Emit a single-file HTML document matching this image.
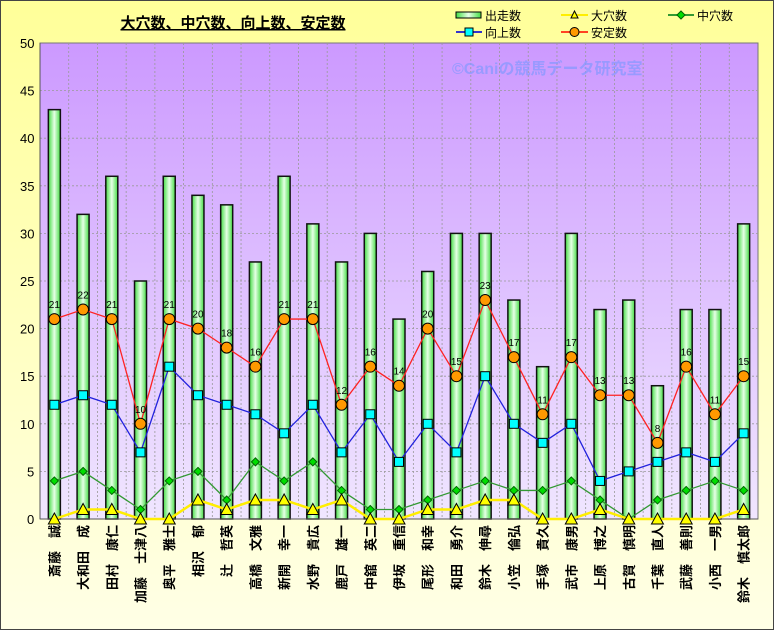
<!DOCTYPE html>
<html><head><meta charset="utf-8"><style>
body{margin:0;}
svg{display:block;font-family:"Liberation Sans","Noto Sans CJK JP",sans-serif;}
</style></head><body>
<svg id="s" width="774" height="630" xmlns="http://www.w3.org/2000/svg">
<defs>
<linearGradient id="bg" x1="0" y1="0" x2="0" y2="1"><stop offset="0" stop-color="#ffff99"/><stop offset="1" stop-color="#ffffe6"/></linearGradient>
<linearGradient id="pl" x1="0" y1="0" x2="0" y2="1"><stop offset="0" stop-color="#cc99ff"/><stop offset="1" stop-color="#f0e6ff"/></linearGradient>
<linearGradient id="bar" x1="0" y1="0" x2="1" y2="0"><stop offset="0" stop-color="#44dd44"/><stop offset="0.5" stop-color="#e6ffe6"/><stop offset="1" stop-color="#44dd44"/></linearGradient>
</defs>
<rect x="0.5" y="0.5" width="773" height="629" fill="url(#bg)" stroke="#444"/>
<rect x="40" y="43" width="718" height="476" fill="url(#pl)" stroke="#777"/>
<g id="g"></g>
<text x="233" y="28" font-size="15" font-weight="bold" text-anchor="middle" text-decoration="underline">大穴数、中穴数、向上数、安定数</text>
<text x="452" y="74" font-size="16" font-weight="bold" fill="#8899ff" opacity="0.75">©Caniの競馬データ研究室</text>
<g font-size="12">
<rect x="456" y="12" width="25" height="6" fill="url(#bar)" stroke="#000"/><text x="485" y="20">出走数</text>
<line x1="561" y1="15" x2="588" y2="15" stroke="#ffee00" stroke-width="2"/><polygon points="574.5,11 578,18 571,18" fill="#ffff00" stroke="#000"/><text x="591" y="20">大穴数</text>
<line x1="668" y1="15" x2="694" y2="15" stroke="#339933" stroke-width="2"/><polygon points="681,11 685,15 681,19 677,15" fill="#00dd00" stroke="#006600"/><text x="697" y="20">中穴数</text>
<line x1="456" y1="32" x2="482" y2="32" stroke="#3333cc" stroke-width="2"/><rect x="465" y="28" width="8" height="8" fill="#00ffff" stroke="#000"/><text x="485" y="37">向上数</text>
<line x1="561" y1="32" x2="588" y2="32" stroke="#ff4422" stroke-width="2"/><circle cx="574.5" cy="32" r="4.5" fill="#ff9900" stroke="#000"/><text x="591" y="37">安定数</text>
</g>
</svg>
<script>
const N=["斎藤　誠","大和田　成","田村　康仁","加藤　士津八","奥平　雅士","相沢　郁","辻　哲英","高橋　文雅","新開　幸一","水野　貴広","鹿戸　雄一","中舘　英二","伊坂　重信","尾形　和幸","和田　勇介","鈴木　伸尋","小笠　倫弘","手塚　貴久","武市　康男","上原　博之","古賀　慎明","千葉　直人","武藤　善則","小西　一男","鈴木　慎太郎"];
const R=[43,32,36,25,36,34,33,27,36,31,27,30,21,26,30,30,23,16,30,22,23,14,22,22,31];
const A=[21,22,21,10,21,20,18,16,21,21,12,16,14,20,15,23,17,11,17,13,13,8,16,11,15];
const U=[12,13,12,7,16,13,12,11,9,12,7,11,6,10,7,15,10,8,10,4,5,6,7,6,9];
const M=[4,5,3,1,4,5,2,6,4,6,3,1,1,2,3,4,3,3,4,2,0,2,3,4,3];
const B=[0,1,1,0,0,2,1,2,2,1,2,0,0,1,1,2,2,0,0,1,0,0,0,0,1];
const L=40,T=43,W=718,H=476,cw=W/25,Y=v=>T+H-v*H/50,X=i=>L+cw*(i+.5);
let s='';
for(let i=1;i<25;i++){const x=L+cw*i;s+=`<line x1="${x}" y1="${T}" x2="${x}" y2="${T+H}" stroke="#999" stroke-dasharray="2,2" stroke-width="0.8"/>`;}
for(let v=0;v<=50;v+=5){const y=Y(v);if(v>0&&v<50)s+=`<line x1="${L}" y1="${y}" x2="${L+W}" y2="${y}" stroke="#999" stroke-dasharray="2,2" stroke-width="0.8"/>`;s+=`<text x="${v<10?27:20}" y="${y+5}" font-size="13">${v}</text>`;}
R.forEach((v,i)=>{s+=`<rect x="${X(i)-6}" y="${Y(v)}" width="12" height="${Y(0)-Y(v)}" fill="url(#bar)" stroke="#111" stroke-width="1.5"/>`;});
s+=`<line x1="${L}" y1="${T}" x2="${L}" y2="${T+H}" stroke="#555"/><line x1="${L}" y1="${T+H}" x2="${L+W}" y2="${T+H}" stroke="#555"/>`;
const pl=(d,c,w)=>`<polyline fill="none" stroke="${c}" stroke-width="${w}" points="${d.map((v,i)=>X(i)+','+Y(v)).join(' ')}"/>`;
s+=pl(M,'#339933',1.3);
M.forEach((v,i)=>{const x=X(i),y=Y(v);s+=`<polygon points="${x},${y-4} ${x+4},${y} ${x},${y+4} ${x-4},${y}" fill="#00dd00" stroke="#006600"/>`;});
s+=pl(U,'#2222dd',1.3);
U.forEach((v,i)=>{s+=`<rect x="${X(i)-4.5}" y="${Y(v)-4.5}" width="9" height="9" fill="#00ffff" stroke="#000"/>`;});
s+=pl(A,'#ff2222',1.3);
A.forEach((v,i)=>{s+=`<circle cx="${X(i)}" cy="${Y(v)}" r="5.5" fill="#ff9900" stroke="#000"/><text x="${X(i)}" y="${Y(v)-11}" font-size="10" text-anchor="middle">${v}</text>`;});
s+=pl(B,'#ffee00',2.5);
B.forEach((v,i)=>{const x=X(i),y=Y(v);s+=`<polygon points="${x},${y-6} ${x+6},${y+5} ${x-6},${y+5}" fill="#ffff00" stroke="#000"/>`;});
N.forEach((n,i)=>{s+=`<text transform="translate(${X(i)+5},525) rotate(-90)" text-anchor="end" font-size="13" font-weight="bold">${n}</text>`;});
document.getElementById('g').innerHTML=s;
</script>
</body></html>
